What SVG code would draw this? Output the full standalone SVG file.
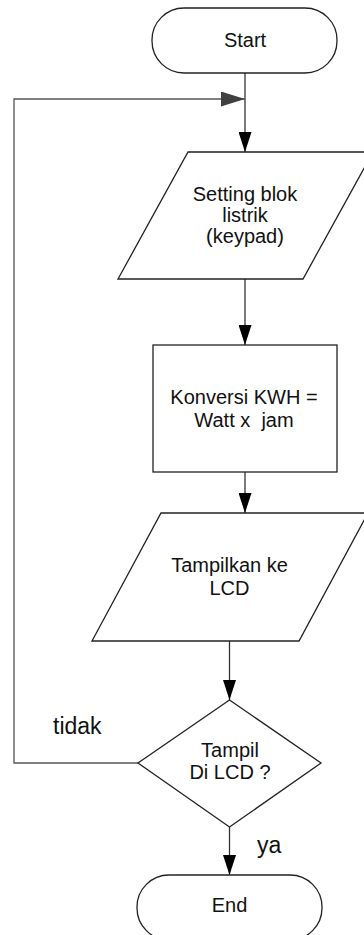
<svg xmlns="http://www.w3.org/2000/svg" width="364" height="935" viewBox="0 0 364 935">
<style>
.shape{fill:#fff;stroke:#222;stroke-width:1.3}
.conn{fill:none;stroke:#333;stroke-width:1.3}
.loop{fill:none;stroke:#555;stroke-width:1.3}
.t{font-family:"Liberation Sans",Arial,sans-serif;font-size:20px;fill:#111;text-anchor:middle}
.lbl{font-family:"Liberation Sans",Arial,sans-serif;font-size:23px;fill:#111}
</style>
<defs>
<marker id="ah" markerUnits="userSpaceOnUse" markerWidth="20" markerHeight="13" refX="20" refY="6.5" orient="auto">
<path d="M0,0 L20,6.5 L0,13 z" fill="#000"/>
</marker>
<marker id="ahLoop" markerUnits="userSpaceOnUse" markerWidth="24" markerHeight="15" refX="24" refY="7.5" orient="auto">
<path d="M0,0 L24,7.5 L0,15 z" fill="#404040"/>
</marker>
</defs>
<g id="connectors">
<path class="conn" d="M245,73 V152" marker-end="url(#ah)"/>
<path class="loop" d="M138,763 H14 V99 H245" marker-end="url(#ahLoop)"/>
<path class="conn" d="M245,279 V345" marker-end="url(#ah)"/>
<path class="conn" d="M245,472 V513" marker-end="url(#ah)"/>
<path class="conn" d="M229.5,641 V700" marker-end="url(#ah)"/>
<path class="conn" d="M229.5,827 V875" marker-end="url(#ah)"/>
<text class="lbl" x="53" y="734">tidak</text>
<text class="lbl" x="257" y="853">ya</text>
</g>
<g id="start">
<rect class="shape" x="152" y="8" width="185" height="65" rx="32" ry="32"/>
<text class="t" x="245" y="47">Start</text>
</g>
<g id="setting">
<polygon class="shape" points="188,152 373,152 303,279 118,279"/>
<text class="t" x="245" y="201">Setting blok</text>
<text class="t" x="245" y="222">listrik</text>
<text class="t" x="245" y="243">(keypad)</text>
</g>
<g id="konversi">
<rect class="shape" x="153" y="345" width="184" height="127"/>
<text class="t" x="244" y="404">Konversi KWH =</text>
<text class="t" x="244" y="427" xml:space="preserve">Watt x  jam</text>
</g>
<g id="tampilkan">
<polygon class="shape" points="161,513 368,513 299,641 92,641"/>
<text class="t" x="229.5" y="572">Tampilkan ke</text>
<text class="t" x="229.5" y="595">LCD</text>
</g>
<g id="decision">
<polygon class="shape" points="229.5,700 321,763 229.5,827 138,763"/>
<text class="t" x="230" y="757">Tampil</text>
<text class="t" x="230" y="779">Di LCD ?</text>
</g>
<g id="end">
<rect class="shape" x="137" y="875" width="185" height="65" rx="32" ry="32"/>
<text class="t" x="229.5" y="912">End</text>
</g>
</svg>
